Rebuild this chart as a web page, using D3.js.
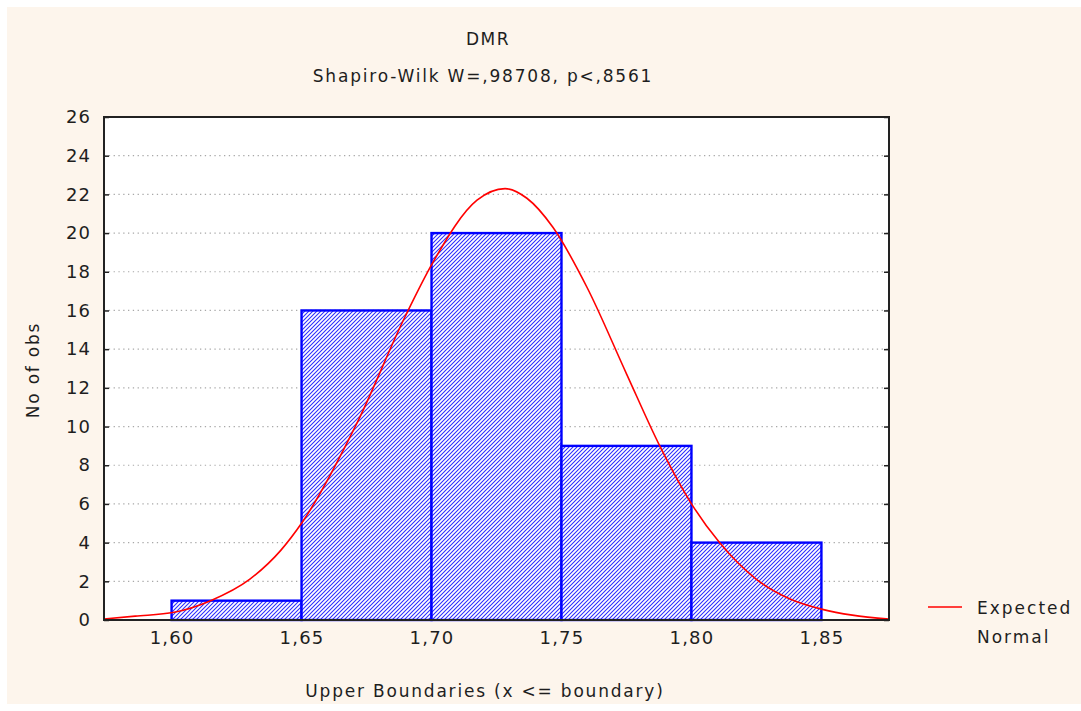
<!DOCTYPE html>
<html>
<head>
<meta charset="utf-8">
<script src="https://cdn.jsdelivr.net/npm/d3@7"></script>
<style>
  body { margin: 0; background: #ffffff; }
  text { font-family: "DejaVu Sans", sans-serif; fill: #1e1e1e; }
</style>
</head>
<body>
<div id="chart"></div>
<script>
// histogram bins (upper boundaries) and counts
var binLower = [1.60, 1.65, 1.70, 1.75, 1.80]
var binUpper = [1.65, 1.70, 1.75, 1.80, 1.85]
var counts = [1, 16, 20, 9, 4]

// expected normal curve
var curveX = [1.574, 1.586, 1.601, 1.615, 1.630, 1.642, 1.650, 1.6714, 1.6899, 1.7006,
              1.7175, 1.7283, 1.7367, 1.7467, 1.7598, 1.7751, 1.7878, 1.8005,
              1.8108, 1.825, 1.8377, 1.8504, 1.8619, 1.876]
var curveY = [0.05, 0.2, 0.4, 1.0, 2.1, 3.6, 5.0, 10.2, 15.7, 18.5,
              21.7, 22.3, 21.8, 20.3, 17.2, 12.7, 9.0, 5.9,
              4.0, 2.1, 1.1, 0.55, 0.25, 0.05]

var xTicks = [1.60, 1.65, 1.70, 1.75, 1.80, 1.85]
var yTicks = d3.range(0, 27, 2)

var title = "DMR"
var subtitle = "Shapiro-Wilk W=,98708, p<,8561"
var xLabel = "Upper Boundaries (x <= boundary)"
var yLabel = "No of obs"
var legendLabel = ["Expected", "Normal"]

var W = 1081, H = 711
var plot = {left: 104, right: 889, top: 117, bottom: 620}

var svg = d3.select("#chart").append("svg")
    .attr("width", W)
    .attr("height", H)

svg.append("rect")
    .attr("x", 7).attr("y", 7)
    .attr("width", W - 7).attr("height", H - 14)
    .attr("fill", "#fdf5ec")

var defs = svg.append("defs")
defs.append("pattern")
    .attr("id", "hatch")
    .attr("patternUnits", "userSpaceOnUse")
    .attr("width", 4).attr("height", 4)
  .call(function(p) {
    p.append("rect").attr("width", 4).attr("height", 4).attr("fill", "#ffffff")
    p.append("path")
        .attr("d", "M-1,1 l2,-2 M0,4 l4,-4 M3,5 l2,-2")
        .attr("stroke", "#2a2aff")
        .attr("stroke-width", 1.05)
  })

var x = d3.scaleLinear().domain([1.574, 1.876]).range([plot.left, plot.right])
var y = d3.scaleLinear().domain([0, 26]).range([plot.bottom, plot.top])

// plot area
svg.append("rect")
    .attr("x", plot.left).attr("y", plot.top)
    .attr("width", plot.right - plot.left).attr("height", plot.bottom - plot.top)
    .attr("fill", "#ffffff")

// dotted grid
svg.append("g")
    .selectAll("line")
    .data(yTicks.filter(function(d) { return d > 0 && d < 26 }))
    .join("line")
    .attr("x1", plot.left).attr("x2", plot.right)
    .attr("y1", function(d) { return y(d) }).attr("y2", function(d) { return y(d) })
    .attr("stroke", "#a8a8a8")
    .attr("stroke-width", 1.2)
    .attr("stroke-dasharray", "1.3,3.5")

// bars
svg.append("g")
    .selectAll("rect")
    .data(counts)
    .join("rect")
    .attr("x", function(d, i) { return x(binLower[i]) })
    .attr("y", function(d) { return y(d) })
    .attr("width", function(d, i) { return x(binUpper[i]) - x(binLower[i]) })
    .attr("height", function(d) { return y(0) - y(d) })
    .attr("fill", "url(#hatch)")
    .attr("stroke", "#0000ff")
    .attr("stroke-width", 2.4)

// expected normal
var line = d3.line()
    .x(function(d) { return x(d[0]) })
    .y(function(d) { return y(d[1]) })
    .curve(d3.curveMonotoneX)

svg.append("path")
    .datum(d3.zip(curveX, curveY))
    .attr("d", line)
    .attr("fill", "none")
    .attr("stroke", "#ff0000")
    .attr("stroke-width", 1.6)

// frame
svg.append("rect")
    .attr("x", plot.left).attr("y", plot.top)
    .attr("width", plot.right - plot.left).attr("height", plot.bottom - plot.top)
    .attr("fill", "none")
    .attr("stroke", "#222")
    .attr("stroke-width", 2)

// axes
var yAxis = svg.append("g")
    .attr("transform", "translate(" + plot.left + ",0)")
    .call(d3.axisLeft(y).tickValues(yTicks).tickSize(-5).tickPadding(13).tickFormat(d3.format("d")))
yAxis.select(".domain").remove()
yAxis.selectAll(".tick line").attr("stroke", "#222").attr("stroke-width", 1.5)
yAxis.selectAll("text").style("font-size", "18px").style("letter-spacing", "1px")

var yAxisR = svg.append("g")
    .attr("transform", "translate(" + plot.right + ",0)")
    .call(d3.axisRight(y).tickValues(yTicks).tickSize(-5).tickFormat(""))
yAxisR.select(".domain").remove()
yAxisR.selectAll(".tick line").attr("stroke", "#222").attr("stroke-width", 1.5)

var xAxis = svg.append("g")
    .attr("transform", "translate(0," + plot.bottom + ")")
    .call(d3.axisBottom(x).tickValues(xTicks).tickSize(0).tickPadding(11)
      .tickFormat(function(d) { return d3.format(".2f")(d).replace(".", ",") }))
xAxis.select(".domain").remove()
xAxis.selectAll("text").style("font-size", "18px").style("letter-spacing", "1.2px")

// titles
svg.append("text")
    .attr("x", 488).attr("y", 45)
    .attr("text-anchor", "middle")
    .style("font-size", "17px")
    .style("letter-spacing", "1.5px")
    .text(title)

svg.append("text")
    .attr("x", 483).attr("y", 82)
    .attr("text-anchor", "middle")
    .style("font-size", "17px")
    .style("letter-spacing", "1.8px")
    .text(subtitle)

svg.append("text")
    .attr("x", 485).attr("y", 697)
    .attr("text-anchor", "middle")
    .style("font-size", "17px")
    .style("letter-spacing", "1.8px")
    .text(xLabel)

svg.append("text")
    .attr("transform", "translate(39,370) rotate(-90)")
    .attr("text-anchor", "middle")
    .style("font-size", "17px")
    .style("letter-spacing", "1.8px")
    .text(yLabel)

// legend
svg.append("line")
    .attr("x1", 928).attr("x2", 962)
    .attr("y1", 607).attr("y2", 607)
    .attr("stroke", "#ff0000")
    .attr("stroke-width", 1.6)

svg.append("g")
    .selectAll("text")
    .data(legendLabel)
    .join("text")
    .attr("x", 977)
    .attr("y", function(d, i) { return 614 + i * 29 })
    .style("font-size", "17px")
    .style("letter-spacing", "2px")
    .text(function(d) { return d })
</script>
</body>
</html>
